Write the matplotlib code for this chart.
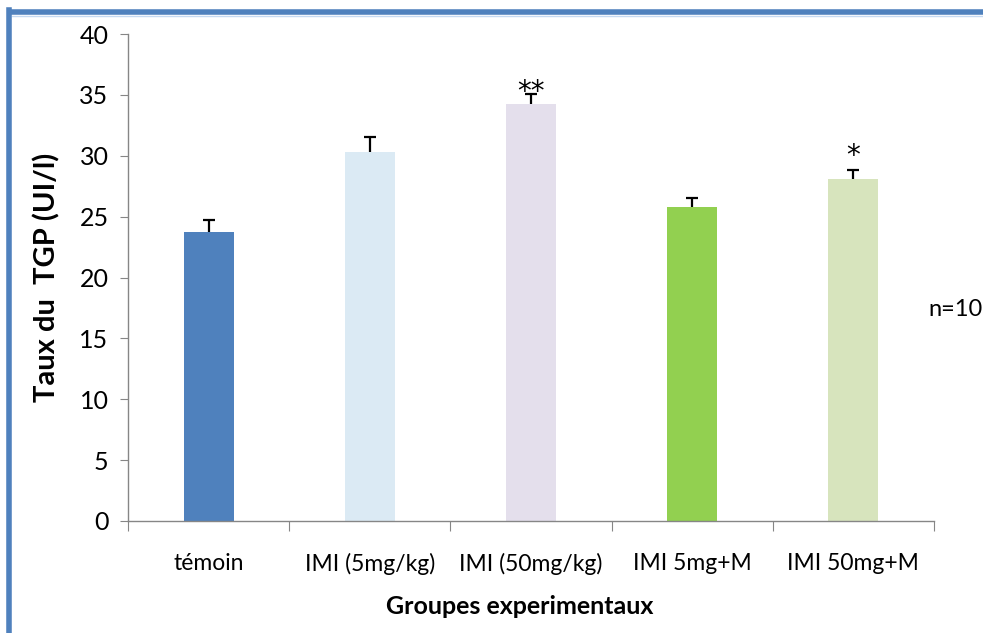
import matplotlib
matplotlib.use("Agg")
import matplotlib.pyplot as plt
from matplotlib.lines import Line2D

categories = ["témoin", "IMI (5mg/kg)", "IMI (50mg/kg)", "IMI 5mg+M", "IMI 50mg+M"]
values = [23.7, 30.3, 34.25, 25.8, 28.1]
errors = [1.0, 1.25, 0.85, 0.7, 0.75]
signif = ["", "", "**", "", "*"]
signif_y = [None, None, 35.25, None, 30.0]
colors = ["#4F81BD", "#DBEAF4", "#E4DFEC", "#92D050", "#D7E4BD"]
yticks = [0, 5, 10, 15, 20, 25, 30, 35, 40]

FONT = "Lato"

fig = plt.figure(figsize=(9.83, 6.33), dpi=100)
ax = fig.add_axes([128/983, 1-521/633, (934-128)/983, (521-34)/633])

x = list(range(len(categories)))
ax.bar(x, values, width=0.31, color=colors, zorder=2)
eb = ax.errorbar(x, values, yerr=[[0]*len(errors), errors], fmt="none",
                 ecolor="black", elinewidth=1.6, capsize=4.5, capthick=1.6, zorder=3)
# keep only upper caps
caplines = eb[1]
if len(caplines) == 2:
    caplines[0].set_visible(False)

for xi, s, sy in zip(x, signif, signif_y):
    if s:
        ax.text(xi, sy, s, ha="center", va="center", fontsize=20,
                fontfamily="DejaVu Sans", zorder=4)

ax.set_xlim(-0.5, len(categories) - 0.5)
ax.set_ylim(0, 40)
ax.set_yticks(yticks)
ax.set_yticklabels([str(t) for t in yticks], fontfamily=FONT, fontsize=18)
ax.set_xticks([i + 0.5 for i in range(-1, len(categories))], minor=False)
ax.set_xticklabels([])
ax.set_xticks(x, minor=True)
ax.set_xticklabels(categories, minor=True, fontfamily=FONT, fontsize=16.5)
ax.tick_params(axis="x", which="minor", length=0, pad=23)
ax.tick_params(axis="x", which="major", length=7, direction="out", color="#868686")
ax.tick_params(axis="y", length=6, direction="out", color="#868686", pad=8)

for s in ["top", "right"]:
    ax.spines[s].set_visible(False)
for s in ["left", "bottom"]:
    ax.spines[s].set_color("#868686")
    ax.spines[s].set_linewidth(1.0)

ax.set_ylabel("Taux du  TGP (UI/l)", fontfamily=FONT, fontweight="bold", fontsize=21)
ax.yaxis.set_label_coords((60 - 128) / (934 - 128), 0.5)
fig.text(520 / 983, 1 - 607 / 633, "Groupes experimentaux",
         ha="center", va="center", fontfamily=FONT, fontweight="bold", fontsize=18)
fig.text(928 / 983, 1 - 309 / 633, "n=10", ha="left", va="center",
         fontfamily=FONT, fontsize=17)

# blue frame (top and left)
fig.add_artist(Line2D([10/983, 1.0], [1 - 12/633, 1 - 12/633], color="#4F81BD",
                      linewidth=4, transform=fig.transFigure))
fig.add_artist(Line2D([12/983, 1.0], [1 - 15.5/633, 1 - 15.5/633], color="#C5D9F1",
                      linewidth=1, transform=fig.transFigure))
fig.add_artist(Line2D([9/983, 9/983], [0, 1 - 10/633], color="#4F81BD",
                      linewidth=4, transform=fig.transFigure))

fig.savefig("out.png", dpi=100)
